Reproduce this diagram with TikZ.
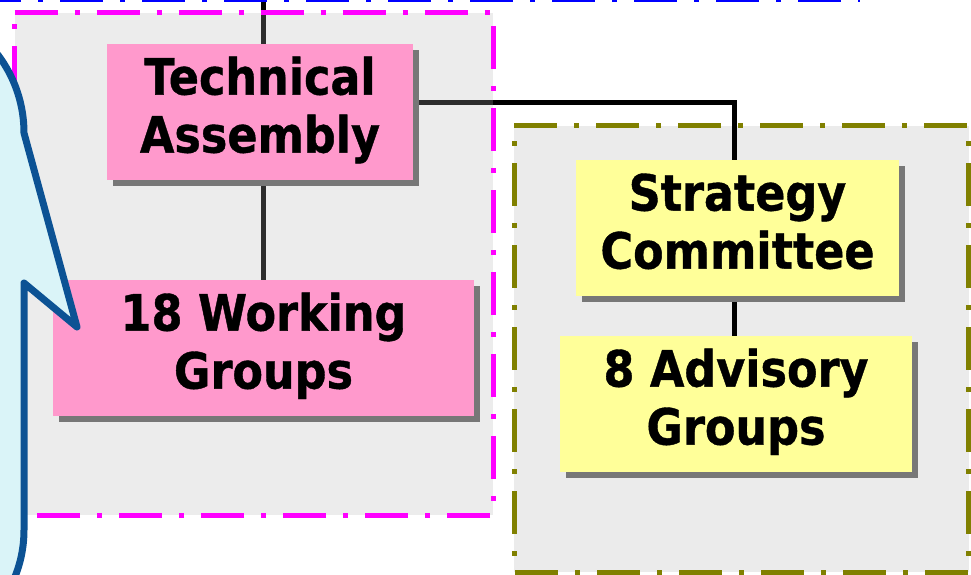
\documentclass[tikz,border=0pt]{standalone}
\usepackage{fontspec}
\newfontfamily\lbl{DejaVu Sans}[FakeStretch=0.89,FakeBold=0.8]
\usetikzlibrary{shadows}
\pgfdeclarelayer{boxes}
\pgfdeclarelayer{lines}
\pgfdeclarelayer{glass}
\pgfsetlayers{boxes,lines,glass,main}
\definecolor{pinkc}{HTML}{FF99CC}
\definecolor{yellowc}{HTML}{FFFF99}
\definecolor{shadowc}{HTML}{777777}
\definecolor{grayfill}{HTML}{EBEBEB}
\definecolor{glassc}{HTML}{B4B4B4}
\definecolor{magentac}{HTML}{FF00FF}
\definecolor{olivec}{HTML}{808000}
\definecolor{bluec}{HTML}{0000FF}
\definecolor{calloutfill}{RGB}{218,244,248}
\definecolor{calloutline}{RGB}{12,82,148}
\tikzset{
  dashdot/.style={line width=5pt,dash pattern=on 43pt off 17pt on 5pt off 17pt},
  orgbox/.style={rectangle,inner sep=0pt,minimum height=136pt,align=center,
    font=\lbl\bfseries\fontsize{50}{58}\selectfont,
    drop shadow={shadow xshift=6pt,shadow yshift=-6pt,fill=shadowc,opacity=1}},
  pinkbox/.style={orgbox,fill=pinkc},
  yellowbox/.style={orgbox,fill=yellowc},
  conn/.style={draw=black,line width=5pt},
  callout/.style={fill=calloutfill,draw=calloutline,line width=7pt,line join=round}
}
\begin{document}
\begin{tikzpicture}[x=1pt,y=-1pt]
\useasboundingbox (0,0) rectangle (971,574);
\clip (0,0) rectangle (971,574);
% blue frame edge at the top
\draw[bluec,dashdot] (-22,-1) -- (860,-1);
% nodes
\node[pinkbox,minimum width=306pt] (TA) at (260,112) {\strut Technical\\\strut Assembly};
\node[pinkbox,minimum width=421pt] (WG) at (263.5,348) {\strut 18 Working\\\strut Groups};
\node[yellowbox,minimum width=323pt] (SC) at (737.5,228) {\strut Strategy\\\strut Committee};
\node[yellowbox,minimum width=352pt] (AG) at (736,404) {\strut 8 Advisory\\\strut Groups};
\coordinate (top) at (263,-5);
\coordinate (elbow) at (734.5,102);
% olive group
\begin{pgfonlayer}{boxes}
\filldraw[fill=grayfill,draw=olivec,dashdot] (514,125.5) -- (968.5,125.5) -- (968.5,572) -- (514,572) -- cycle;
\end{pgfonlayer}
% connectors
\begin{pgfonlayer}{lines}
\draw[conn] (top) -- (top |- TA.north);
\draw[conn] (TA.south -| top) -- (WG.north -| top);
\draw[conn] (TA.east |- elbow) -- (elbow) -- (elbow |- SC.north);
\draw[conn] (SC.south -| elbow) -- (AG.north -| elbow);
\end{pgfonlayer}
% magenta group
\begin{pgfonlayer}{glass}
\fill[glassc,opacity=0.255] (14.5,12.5) -- (493,12.5) -- (493,515) -- (14.5,515) -- cycle;
\draw[magentac,dashdot] (14.5,12.5) -- (493,12.5) -- (493,515) -- (14.5,515) -- cycle;
\end{pgfonlayer}
% callout
\path[callout] (-200,3) -- (-106,3) .. controls (-34.2,3) and (24,61.2) .. (24,133) -- (77,327) -- (24,283) -- (24,530) .. controls (24,599) and (-32,655) .. (-101,655) -- (-200,655) -- cycle;
\end{tikzpicture}
\end{document}
